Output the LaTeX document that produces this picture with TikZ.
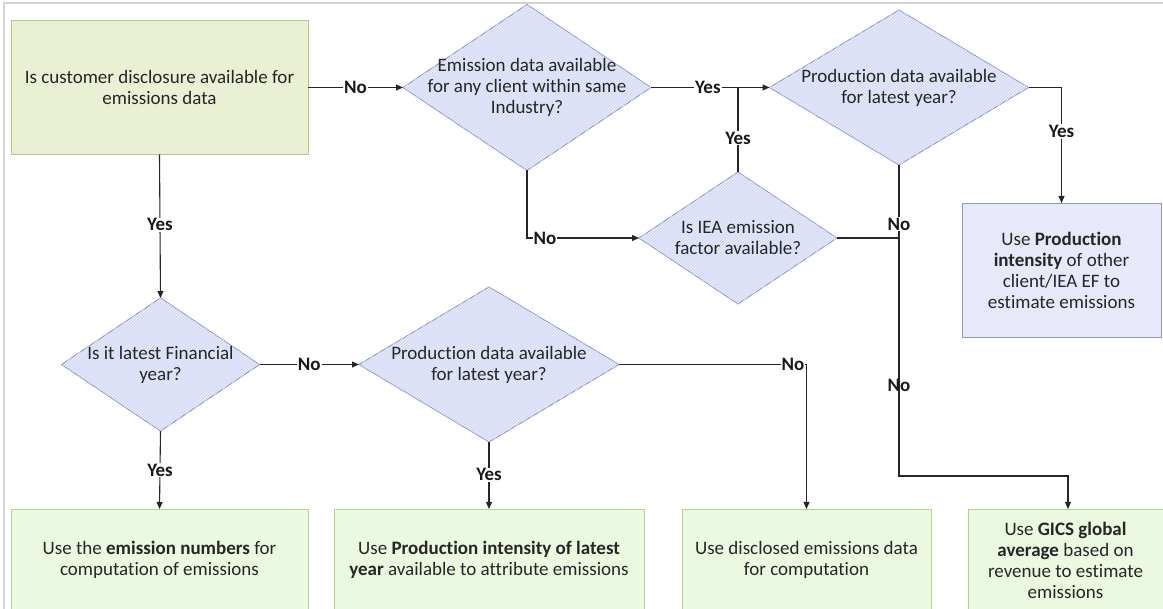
\documentclass[tikz,border=0pt]{standalone}
\usepackage{fontspec}
\setmainfont{Carlito}[Ligatures=NoCommon]
\usetikzlibrary{shapes.geometric,arrows.meta,patterns,calc}
\definecolor{dfill}{HTML}{D6DBF5}
\definecolor{dstripe}{HTML}{EEF0FC}
\definecolor{dborder}{HTML}{8A97C6}
\definecolor{qfill}{HTML}{EAF0D4}
\definecolor{qborder}{HTML}{B4C689}
\definecolor{gfill}{HTML}{EBF9E1}
\definecolor{gborder}{HTML}{B5D395}
\definecolor{rfill}{HTML}{E7E9FB}
\definecolor{rborder}{HTML}{8D9BC8}
\definecolor{linec}{HTML}{262626}
\definecolor{framec}{HTML}{D4D4D4}
\begin{document}
\begin{tikzpicture}[x=1pt,y=-1pt,
  font=\fontsize{19}{21}\selectfont,
  conn/.style={draw=linec, line width=1.1pt},
  arr/.style={conn, -{Triangle[length=7pt,width=6pt]}},
  dia/.style={shape=diamond, draw=dborder, line width=0.9pt, fill=dfill, inner sep=0pt, outer sep=0pt,
    postaction={pattern=north east lines, pattern color=dstripe}},
  dtext/.style={align=center, inner sep=0pt, text=black!85},
  qbox/.style={rectangle, draw=qborder, line width=0.9pt, fill=qfill, align=center, inner sep=0pt, outer sep=0pt, text=black!85},
  gbox/.style={rectangle, draw=gborder, line width=0.9pt, fill=gfill, align=center, inner sep=0pt, outer sep=0pt, text=black!85},
  rbox/.style={rectangle, draw=rborder, line width=0.9pt, fill=rfill, align=center, inner sep=0pt, outer sep=0pt, text=black!85},
  lbl/.style={font=\fontsize{19}{21}\selectfont\bfseries, fill=white, inner sep=1pt, text=black!90},
  lblc/.style={font=\fontsize{19}{21}\selectfont\bfseries, inner sep=1pt, text=black!90}
]
\useasboundingbox (0,0) rectangle (1163,609);
\draw[draw=framec, line width=1.5pt] (4,612) -- (4,3) -- (1166,3);

% top row
\node[qbox, minimum width=297, minimum height=134] (q1) at (159.5,87.5)
  {Is customer disclosure available for\\emissions data};
\node[dia, minimum width=248, minimum height=166] (d1) at (527,87.5) {};
\node[dtext] (t1) at (d1.center) {Emission data available\\for any client within same\\Industry?};
\node[dia, minimum width=259, minimum height=155] (d2) at (899,87.5) {};
\node[dtext] (t2) at (d2.center) {Production data available\\for latest year?};
\node[dia, minimum width=198, minimum height=132] (d3) at (738,238) {};
\node[dtext] (t3) at (d3.center) {Is IEA emission\\factor available?};
\node[rbox, minimum width=199, minimum height=134] (r1) at (1061.5,270)
  {Use \textbf{Production}\\\textbf{intensity} of other\\client/IEA EF to\\estimate emissions};

% middle row
\node[dia, minimum width=198, minimum height=133] (d4) at (160.5,364.5) {};
\node[dtext] (t4) at (d4.center) {Is it latest Financial\\year?};
\node[dia, minimum width=260, minimum height=155] (d5) at (489,364.5) {};
\node[dtext] (t5) at (d5.center) {Production data available\\for latest year?};

% bottom row
\node[gbox, minimum width=297, minimum height=102] (bA) at (159.5,560)
  {Use the \textbf{emission numbers} for\\computation of emissions};
\node[gbox, minimum width=310, minimum height=102] (bB) at (489,560)
  {Use \textbf{Production intensity of latest}\\\textbf{year} available to attribute emissions};
\node[gbox, minimum width=249, minimum height=102] (bC) at (806.5,560)
  {Use disclosed emissions data\\for computation};
\node[gbox, minimum width=195, minimum height=102] (bD) at (1065.5,560)
  {Use \textbf{GICS global}\\\textbf{average} based on\\revenue to estimate\\emissions};

\coordinate (k1) at (899,476);

% connectors
\draw[arr] (q1.east) -- node[lbl]{No} (d1.west);
\draw[arr] (d1.east) -- node[lbl,pos=0.48]{Yes} (d2.west);
\draw[conn] (d3.north) -- node[lbl,pos=0.4]{Yes} (d3.north |- d1.east);
\draw[arr] (d2.east) -| node[lbl,pos=0.69]{Yes} (r1.north);
\draw[arr] (d1.south) |- node[lbl,pos=0.58]{No} (d3.west);
\draw[conn] (d3.east) -- (d3.east -| d2.south);
\draw[arr] (d2.south) -- node[lbl,pos=0.19]{No} node[lblc,pos=0.71]{No} (k1) -| ([xshift=2.5pt]bD.north);
\draw[arr] (q1.south) -- node[lbl,pos=0.49]{Yes} (d4.north);
\draw[arr] (d4.east) -- node[lbl]{No} (d5.west);
\draw[arr] (d4.south) -- node[lbl,pos=0.5]{Yes} (bA.north);
\draw[arr] (d5.south) -- node[lbl,pos=0.49]{Yes} (bB.north);
\draw[arr] (d5.east) -| node[lbl,pos=0.464]{No} (bC.north);
\end{tikzpicture}
\end{document}
